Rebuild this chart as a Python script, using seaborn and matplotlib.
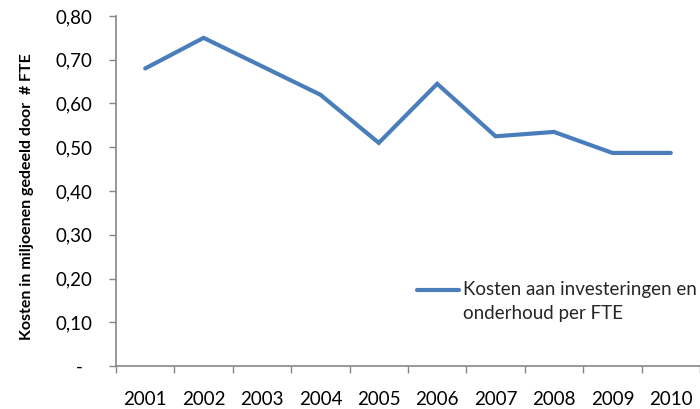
import matplotlib
matplotlib.use("Agg")
import matplotlib.pyplot as plt
from matplotlib.legend_handler import HandlerLine2D
import seaborn as sns
import pandas as pd

years = ["2001", "2002", "2003", "2004", "2005", "2006", "2007", "2008", "2009", "2010"]
kosten_per_fte = [0.68, 0.75, 0.685, 0.62, 0.51, 0.645, 0.525, 0.535, 0.487, 0.487]
y_ticks = [0.0, 0.1, 0.2, 0.3, 0.4, 0.5, 0.6, 0.7, 0.8]
y_tick_labels = ["-  ", "0,10", "0,20", "0,30", "0,40", "0,50", "0,60", "0,70", "0,80"]
series_label = "Kosten aan investeringen en\nonderhoud per FTE"
y_title = "Kosten in miljoenen gedeeld door  # FTE"

sns.set_theme(style="white")
plt.rcParams["font.family"] = ["Lato", "DejaVu Sans"]

df = pd.DataFrame({"jaar": years, "kosten": kosten_per_fte})


class FirstLineHandler(HandlerLine2D):
    """Legend key placed level with the first line of a two-line label."""

    def create_artists(self, legend, orig_handle, xdescent, ydescent,
                       width, height, fontsize, trans):
        artists = super().create_artists(legend, orig_handle, xdescent, ydescent,
                                         width, height, fontsize, trans)
        for a in artists:
            a.set_ydata([y + 0.62 * fontsize for y in a.get_ydata()])
        return artists


fig = plt.figure(figsize=(7.0, 4.09), dpi=100)
ax = fig.add_axes([0.1657, 0.105, 0.8343, 0.856])

sns.lineplot(data=df, x="jaar", y="kosten", ax=ax, color="#4a7ebb",
             linewidth=3.0, label=series_label, sort=False)
ax.lines[0].set_solid_capstyle("round")
ax.lines[0].set_solid_joinstyle("miter")

n = len(years)
ax.set_xlim(-0.5, n - 0.5)
ax.set_ylim(0, 0.8)

# category labels at the centres, tick marks on the category boundaries
ax.set_xticks([i - 0.5 for i in range(n + 1)])
ax.set_xticklabels([])
ax.set_xticks(range(n), minor=True)
ax.set_xticklabels(years, minor=True)
ax.tick_params(axis="x", which="major", length=5, width=1, color="#868686",
               direction="out", bottom=True)
ax.tick_params(axis="x", which="minor", length=0, pad=18, labelsize=13.5,
               labelcolor="black")

ax.set_yticks(y_ticks)
ax.set_yticklabels(y_tick_labels)
ax.tick_params(axis="y", length=5, width=1, color="#868686", direction="out",
               left=True, pad=12, labelsize=13.5, labelcolor="black")

for side in ("top", "right"):
    ax.spines[side].set_visible(False)
for side in ("left", "bottom"):
    ax.spines[side].set_color("#868686")
    ax.spines[side].set_linewidth(1.2)

ax.set_xlabel("")
ax.set_ylabel(y_title, fontsize=11.5, fontweight="bold", color="black")
ax.yaxis.set_label_coords(-0.14, 0.485)

line = ax.lines[0]
if ax.get_legend() is not None:
    ax.get_legend().remove()
leg = ax.legend([line], [series_label], loc="upper left",
                bbox_to_anchor=(0.503, 0.263), frameon=False,
                fontsize=13.5, handlelength=2.25, handletextpad=0.17,
                borderaxespad=0, handler_map={line: FirstLineHandler()})
for t in leg.get_texts():
    t.set_linespacing(1.45)

fig.savefig("out.png", dpi=100)
